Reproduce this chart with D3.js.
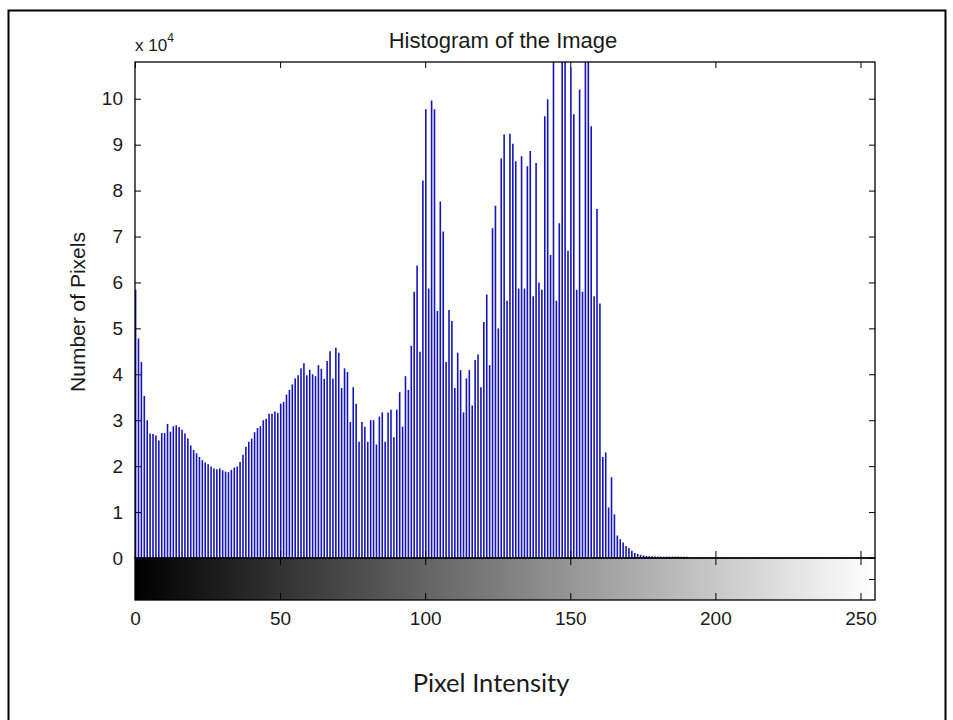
<!DOCTYPE html>
<html>
<head>
<meta charset="utf-8">
<script src="https://cdn.jsdelivr.net/npm/d3@7"></script>
<style>
  html, body { margin: 0; padding: 0; background: #fff; }
  svg { display: block; }
  text { font-family: "Liberation Sans", Arial, sans-serif; fill: #1a1a1a; }
</style>
</head>
<body>
<svg id="chart" width="953" height="720"></svg>
<script>
// pixel counts for intensities 0..190 (all higher bins are empty)
var counts = [
  58400, 47800, 42700, 35300, 30000, 27100, 27000, 26700, 25600, 27200,
  27200, 29200, 27500, 28700, 28900, 28500, 27900, 27100, 26000, 24500,
  23500, 22800, 22000, 21300, 20800, 20400, 19900, 19500, 19300, 19500,
  19100, 18800, 18700, 19200, 19700, 19900, 20900, 22500, 24200, 25300,
  26000, 27400, 28300, 28700, 30000, 30300, 31400, 31400, 31900, 31600,
  33600, 34000, 35600, 36600, 37800, 39100, 39800, 41300, 42400, 39800,
  41000, 40000, 39600, 42000, 41200, 39000, 42900, 45000, 39100, 45800,
  44700, 37000, 41300, 40500, 29600, 37200, 33600, 25300, 29600, 28600,
  25300, 30000, 30000, 24700, 30800, 31700, 25300, 31700, 32300, 26300,
  32300, 36100, 28600, 39600, 36600, 46200, 58000, 63700, 44900, 82200,
  97700, 58700, 99600, 97700, 53800, 77600, 71100, 42700, 54000, 51600,
  37000, 44700, 40900, 31700, 39100, 40900, 33200, 43100, 44300, 37200,
  51400, 57400, 42000, 71800, 76700, 50000, 87000, 92200, 56000, 92400,
  90200, 86400, 58700, 87500, 58700, 85300, 88600, 57000, 86000, 60000,
  58400, 96200, 99900, 66000, 115000, 56000, 72900, 115000, 115000, 66900,
  106800, 96600, 58400, 102000, 58000, 115000, 115000, 94000, 57000, 76000,
  55400, 22000, 23000, 11000, 17600, 9500, 4900, 4100, 3400, 2600,
  2200, 1600, 1100, 900, 700, 550, 450, 400, 400, 350,
  350, 350, 300, 300, 300, 300, 300, 300, 250, 250,
  250
];
var xTicks = [0, 50, 100, 150, 200, 250];
var yTicks = [0, 10000, 20000, 30000, 40000, 50000, 60000, 70000, 80000, 90000, 100000];
var titleText = "Histogram of the Image";
var yLabel = "Number of Pixels";
var xLabel = "Pixel Intensity";

var svg = d3.select("#chart");
var plotLeft = 135, plotRight = 875, plotTop = 62, plotBottom = 558, cbBottom = 600;

var xScale = d3.scaleLinear().domain([0, 255]).range([plotLeft, plotRight]);
var yScale = d3.scaleLinear().domain([0, 108000]).range([plotBottom, plotTop]);
var cbScale = d3.scaleLinear().domain([0, 1]).range([cbBottom, plotBottom]);

// outer frame of the slide
svg.append("rect")
  .attr("x", 8.5).attr("y", 10.5)
  .attr("width", 937).attr("height", 730)
  .attr("fill", "none").attr("stroke", "#000").attr("stroke-width", 2);

var defs = svg.append("defs");
defs.append("clipPath").attr("id", "plotclip")
  .append("rect").attr("x", plotLeft).attr("y", plotTop)
  .attr("width", plotRight - plotLeft).attr("height", plotBottom - plotTop);

var grad = defs.append("linearGradient").attr("id", "gray")
  .attr("x1", "0%").attr("x2", "100%");
grad.append("stop").attr("offset", "0%").attr("stop-color", "#000");
grad.append("stop").attr("offset", "100%").attr("stop-color", "#fff");

// stems
svg.append("g")
  .attr("clip-path", "url(#plotclip)")
  .selectAll("line")
  .data(counts)
  .join("line")
    .attr("x1", (d, i) => xScale(i) + 0.6)
    .attr("x2", (d, i) => xScale(i) + 0.6)
    .attr("y1", yScale(0))
    .attr("y2", d => yScale(d))
    .attr("stroke", "#1414b8")
    .attr("stroke-width", 1.6);

// gray ramp under the histogram
svg.append("rect")
  .attr("x", plotLeft).attr("y", plotBottom)
  .attr("width", plotRight - plotLeft).attr("height", cbBottom - plotBottom)
  .attr("fill", "url(#gray)");

function noDomain(g) { g.select(".domain").remove(); }

// y axis left with labels
svg.append("g")
  .attr("transform", "translate(" + plotLeft + ",0)")
  .call(d3.axisLeft(yScale).tickValues(yTicks).tickSize(-6).tickPadding(12)
    .tickFormat(d => d / 10000))
  .call(noDomain)
  .call(g => g.selectAll("text").style("font-size", "19px").attr("font-family", null));

svg.append("g")
  .attr("transform", "translate(" + plotRight + ",0)")
  .call(d3.axisRight(yScale).tickValues(yTicks).tickSize(-6).tickFormat(""))
  .call(noDomain);

svg.append("g")
  .attr("transform", "translate(0," + plotTop + ")")
  .call(d3.axisTop(xScale).tickValues(xTicks).tickSize(-6).tickFormat(""))
  .call(noDomain);

svg.append("g")
  .attr("transform", "translate(0," + plotBottom + ")")
  .call(d3.axisBottom(xScale).tickValues(xTicks).tickSize(-7).tickFormat(""))
  .call(noDomain);

svg.append("g")
  .attr("transform", "translate(0," + plotBottom + ")")
  .call(d3.axisTop(xScale).tickValues(xTicks).tickSize(-7).tickFormat(""))
  .call(noDomain);

svg.append("g")
  .attr("transform", "translate(0," + cbBottom + ")")
  .call(d3.axisBottom(xScale).tickValues(xTicks).tickSize(-7).tickPadding(12))
  .call(noDomain)
  .call(g => g.selectAll("text").style("font-size", "19px").attr("font-family", null));

svg.append("g")
  .attr("transform", "translate(" + plotRight + ",0)")
  .call(d3.axisRight(cbScale).tickValues([0.5]).tickSize(-6).tickFormat(""))
  .call(noDomain);

svg.selectAll(".tick line").attr("stroke", "#000");

// axis boxes
svg.append("rect")
  .attr("x", plotLeft).attr("y", plotTop)
  .attr("width", plotRight - plotLeft).attr("height", plotBottom - plotTop)
  .attr("fill", "none").attr("stroke", "#000").attr("stroke-width", 1.3);
svg.append("rect")
  .attr("x", plotLeft).attr("y", plotBottom)
  .attr("width", plotRight - plotLeft).attr("height", cbBottom - plotBottom)
  .attr("fill", "none").attr("stroke", "#000").attr("stroke-width", 1.3);

// texts
svg.append("text")
  .attr("x", 503).attr("y", 48)
  .attr("text-anchor", "middle")
  .style("font-size", "22px")
  .text(titleText);

var expo = svg.append("text").attr("x", 135).attr("y", 51).style("font-size", "17px");
expo.append("tspan").text("x 10");
expo.append("tspan").attr("dy", -9).style("font-size", "12px").text("4");

svg.append("text")
  .attr("transform", "translate(85,312) rotate(-90)")
  .attr("text-anchor", "middle")
  .style("font-size", "21px")
  .text(yLabel);

svg.append("text")
  .attr("x", 491).attr("y", 692)
  .attr("text-anchor", "middle")
  .style("font-family", "Lato, 'Open Sans', sans-serif")
  .style("font-size", "25.5px")
  .text(xLabel);
</script>
</body>
</html>
